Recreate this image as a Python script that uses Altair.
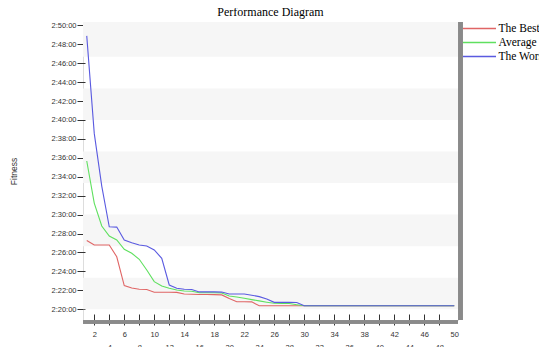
import altair as alt
import pandas as pd

generations = list(range(1, 51))

# fitness values in seconds (2:20:00 = 8400 s)
best = [8836, 8807, 8807, 8807, 8733, 8550, 8535, 8527, 8525, 8508,
        8508, 8508, 8507, 8497, 8495, 8494, 8494, 8493, 8491, 8468,
        8448, 8448, 8447, 8422, 8422, 8422, 8422, 8422, 8422, 8422,
        8422, 8422, 8422, 8422, 8422, 8422, 8422, 8422, 8422, 8422,
        8422, 8422, 8422, 8422, 8422, 8422, 8422, 8422, 8422, 8422]
average = [9340, 9073, 8928, 8864, 8839, 8780, 8755, 8717, 8649, 8575,
           8548, 8533, 8522, 8516, 8514, 8505, 8505, 8505, 8503, 8484,
           8478, 8470, 8461, 8453, 8445, 8438, 8437, 8437, 8429, 8422,
           8422, 8422, 8422, 8422, 8422, 8422, 8422, 8422, 8422, 8422,
           8422, 8422, 8422, 8422, 8422, 8422, 8422, 8422, 8422, 8422]
worst = [10133, 9515, 9181, 8923, 8921, 8839, 8822, 8807, 8801, 8776,
         8723, 8554, 8533, 8527, 8525, 8510, 8510, 8510, 8509, 8497,
         8497, 8497, 8489, 8480, 8465, 8444, 8444, 8444, 8443, 8422,
         8422, 8422, 8422, 8422, 8422, 8422, 8422, 8422, 8422, 8422,
         8422, 8422, 8422, 8422, 8422, 8422, 8422, 8422, 8422, 8422]

series_names = ["The Best", "Average", "The Worst"]
series_colors = ["#e06565", "#5fe05f", "#5a5ae0"]

x_ticks = list(range(2, 51, 2))
y_ticks = list(range(8400, 10201, 120))
band_lo = [10000, 9600, 9200, 8800, 8400]
band_hi = [10221, 9800, 9400, 9000, 8600]
x_domain = [0.5, 50.5]
y_domain = [8332, 10221]

df = pd.DataFrame({
    "Generation": generations * 3,
    "Fitness": best + average + worst,
    "Series": [series_names[0]] * 50 + [series_names[1]] * 50 + [series_names[2]] * 50,
})
bands = pd.DataFrame({"lo": band_lo, "hi": band_hi})

xscale = alt.Scale(domain=x_domain, nice=False, zero=False)
yscale = alt.Scale(domain=y_domain, nice=False, zero=False)

xaxis = alt.Axis(
    title=None, values=x_ticks, domain=False, grid=False,
    offset=-6, tickSize=11, tickColor="#333", tickWidth=1,
    tickOpacity={"condition": {"test": "datum.value == 50", "value": 0}, "value": 1},
    labelExpr="datum.value % 4 == 0 ? ['', datum.label] : datum.label",
    labelLineHeight=13, labelPadding=5, labelOverlap=False, labelFlush=False,
    labelFont="Liberation Sans", labelFontSize=7.5, labelColor="#333",
)
yaxis = alt.Axis(
    title="Fitness", values=y_ticks, domain=False, grid=False,
    offset=-2, tickSize=8, tickColor="#333", tickWidth=1,
    labelExpr="utcFormat(datum.value * 1000, '%-H:%M:%S')",
    labelPadding=1, labelOverlap=False,
    labelFont="Liberation Sans", labelFontSize=7.5, labelColor="#333",
    titleFont="Liberation Sans", titleFontSize=8.5, titleFontWeight="normal",
    titleColor="#333", titleX=-72, titleY=149, titleBaseline="middle",
)

band_layer = alt.Chart(bands).mark_rect(color="#f6f6f6").encode(
    y=alt.Y("lo:Q", scale=yscale, axis=yaxis),
    y2="hi:Q",
)

shadow_bottom = alt.Chart(bands).mark_rule(color="#8a8a8a", strokeWidth=3, yOffset=2).encode(
    y=alt.YDatum(y_domain[0], type="quantitative", scale=yscale, axis=yaxis),
)
shadow_right = alt.Chart(bands).mark_rule(color="#8a8a8a", strokeWidth=4, xOffset=2.5).encode(
    x=alt.XDatum(x_domain[1], type="quantitative", scale=xscale, axis=xaxis),
)

lines = alt.Chart(df).mark_line(strokeWidth=1.1).encode(
    x=alt.X("Generation:Q", scale=xscale, axis=xaxis),
    y=alt.Y("Fitness:Q", scale=yscale, axis=yaxis),
    color=alt.Color(
        "Series:N",
        scale=alt.Scale(domain=series_names, range=series_colors),
        sort=series_names,
        legend=alt.Legend(
            title=None, orient="none", legendX=390, legendY=0,
            symbolType="M-3,0H3", symbolSize=121, symbolStrokeWidth=1.5,
            labelFont="Liberation Serif", labelFontSize=11.5, labelColor="#000",
            labelOffset=12.5, rowPadding=2, padding=0,
        ),
    ),
)

chart = alt.layer(band_layer, shadow_bottom, shadow_right, lines).properties(
    width=375, height=298,
    padding={"left": 75, "top": 14, "right": 81, "bottom": 38},
    autosize=alt.AutoSizeParams(type="none"),
    title=alt.TitleParams(
        "Performance Diagram", font="Liberation Serif", fontSize=12,
        fontWeight="normal", color="#000", anchor="middle", offset=1,
    ),
).configure_view(stroke="#3a3a3a", strokeWidth=1.2).configure(background="white")

chart.save("out.html", embed_options={"renderer": "svg", "actions": False})
